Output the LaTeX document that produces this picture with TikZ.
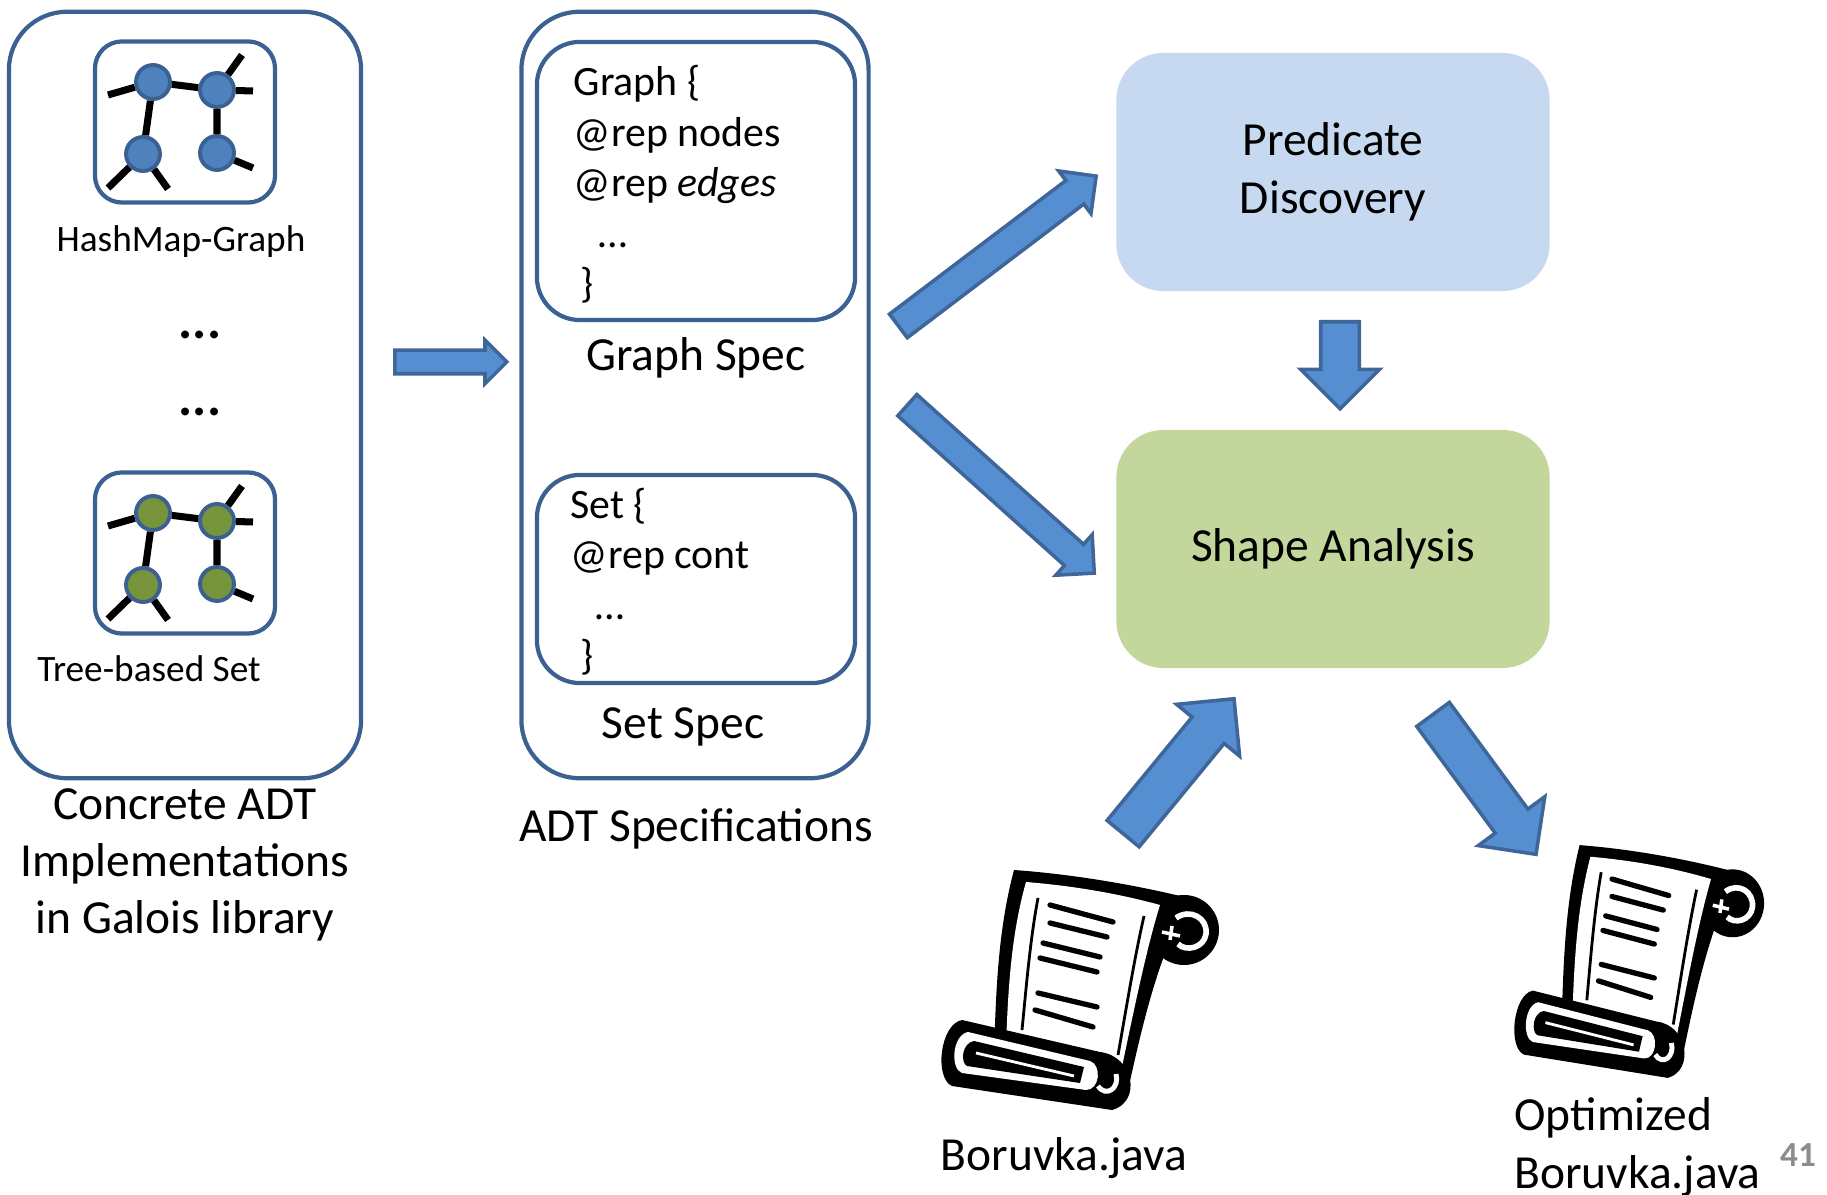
\documentclass[tikz,border=0pt]{standalone}
\usepackage{fontspec}
\setmainfont{Carlito}
\usetikzlibrary{shapes.arrows,calc}
\definecolor{adtblue}{RGB}{59, 96, 146}
\definecolor{nodeblue}{RGB}{79, 129, 189}
\definecolor{nodegreen}{RGB}{119, 147, 60}
\definecolor{predblue}{RGB}{198, 217, 241}
\definecolor{shapegreen}{RGB}{195, 214, 155}
\definecolor{arrowfill}{RGB}{86, 142, 210}
\definecolor{arrowline}{RGB}{62, 102, 152}
\definecolor{pagegray}{RGB}{140, 140, 140}

\tikzset{
  bigtext/.style={font=\fontsize{13.5}{16.3}\selectfont},
  smalltext/.style={font=\fontsize{10.6}{13}\selectfont},
  codetext/.style={font=\fontsize{11.9}{14.4}\selectfont, align=left, inner sep=0},
  outerbox/.style={draw=adtblue, line width=1.2pt, rounded corners=0.58cm, minimum height=7.66cm},
  codebox/.style={draw=adtblue, line width=1.2pt, rounded corners=0.43cm, minimum width=3.18cm},
  iconbox/.style={draw=adtblue, line width=1.2pt, rounded corners=0.27cm, minimum width=1.8cm, minimum height=1.61cm},
  stagebox/.style={rounded corners=0.47cm, minimum width=4.33cm, minimum height=2.38cm, align=center, bigtext},
  gnode/.style={circle, draw=adtblue, line width=1.1pt, minimum size=0.34cm, inner sep=0},
  gedge/.style={line width=2pt},
  fatarrow/.style={single arrow, draw=arrowline, fill=arrowfill, line width=1pt, inner xsep=0,
    single arrow tip angle=90, sloped, allow upside down, pos=0, anchor=tail},
  % small graph drawn inside an icon box
  pics/graphicon/.style={code={
    \node[gnode, fill=#1] (-a) at (-32,-40) {};
    \node[gnode, fill=#1] (-b) at (32,-32) {};
    \node[gnode, fill=#1] (-c) at (-42,32) {};
    \node[gnode, fill=#1] (-d) at (32,31) {};
    \draw[gedge] (-a) -- (-b) (-a) -- (-c) (-b) -- (-d);
    \draw[gedge] (-a) -- (-77,-27) (-b) -- (57,-67) (-b) -- (68,-31)
                 (-c) -- (-77,66) (-c) -- (-17,67) (-d) -- (68,46);
  }},
  % rolled sheet of source code
  pics/scroll/.style={code={
    % upper roll
    \fill (244,90) circle (35);
    % sheet
    \fill (74,30) .. controls (130,34) and (190,44) .. (240,56)
      -- (224,116) .. controls (208,160) and (198,205) .. (188,250)
      -- (54,214) .. controls (56,150) and (58,90) .. (74,30) -- cycle;
    \fill[white] (86,42) .. controls (135,46) and (180,54) .. (220,65)
      .. controls (206,110) and (194,170) .. (180,236)
      -- (66,206) .. controls (68,150) and (71,95) .. (86,42) -- cycle;
    \draw[line width=0.8pt] (98,58) .. controls (90,100) and (86,150) .. (82,190);
    \draw[line width=0.8pt] (204,76) .. controls (194,120) and (186,170) .. (178,215);
    % writing
    \draw[line width=1.5pt, line cap=round] (110,65) -- (173,82) (110,83) -- (167,97)
      (103,103) -- (160,117) (100,118) -- (157,132) (98,153) -- (157,167) (95,170) -- (153,187);
    % curl of the upper roll
    \draw[white, line width=1.6pt] (236,78) .. controls (250,68) and (268,78) .. (266,94)
      .. controls (264,108) and (246,112) .. (238,104);
    \draw[white, line width=1pt] (222,92) -- (240,96) (232,86) -- (230,100);
    % lower roll
    \fill (22,180) -- (160,212) .. controls (194,216) and (202,262) .. (172,270)
      -- (12,246) .. controls (-6,238) and (0,184) .. (22,180) -- cycle;
    \fill[white] (28,192) -- (150,221) .. controls (162,225) and (160,250) .. (146,250)
      -- (22,233) .. controls (10,229) and (12,195) .. (28,192) -- cycle;
    \fill (34,201) -- (144,227) -- (140,243) -- (27,226) .. controls (20,222) and (22,203) .. (34,201) -- cycle;
    \draw[white, line width=0.8pt] (36,213) -- (134,236);
    \draw[white, line width=1.4pt] (176,234) .. controls (180,248) and (166,258) .. (158,246);
  }}
}

\begin{document}
\begin{tikzpicture}[x=0.01cm, y=-0.01cm]
\useasboundingbox (0,0) rectangle (1827,1195);

% concrete implementations
\node[outerbox, minimum width=3.52cm] (impl) at (185,395) {};
\node[iconbox] (hashicon) at (185,122) {};
\pic (hm) at (hashicon) {graphicon=nodeblue};
\node[smalltext] (hmlabel) at (181,242) {HashMap-Graph};
\node[font=\fontsize{15}{18}\selectfont\bfseries, inner sep=0, anchor=base] (dotsa) at (200,339) {...};
\node[font=\fontsize{15}{18}\selectfont\bfseries, inner sep=0, anchor=base] (dotsb) at (200,416) {...};
\node[iconbox] (treeicon) at (185,553) {};
\pic (ts) at (treeicon) {graphicon=nodegreen};
\node[smalltext] (tslabel) at (149,669) {Tree-based Set};
\node[bigtext, align=center] (impllabel) at (185,865) {Concrete ADT\\Implementations\\in Galois library};

% specifications
\node[outerbox, minimum width=3.47cm] (spec) at (695,395) {};
\node[codebox, minimum height=2.78cm] (graphspec) at (696,181) {};
\node[codetext, anchor=base west] (graphcode) at (573,298)
  {Graph \{\\@rep nodes\\@rep \textit{edges}\\\hspace{0.25cm}…\\\hspace{0.07cm}\}};
\node[bigtext] (graphlabel) at (696,358) {Graph Spec};
\node[codebox, minimum height=2.08cm] (setspec) at (696,579) {};
\node[codetext, anchor=base west] (setcode) at (570,670)
  {Set \{\\@rep cont\\\hspace{0.25cm}…\\\hspace{0.1cm}\}};
\node[bigtext] (setlabel) at (683,727) {Set Spec};
\node[bigtext] (speclabel) at (696,829) {ADT Specifications};

% analysis stages
\node[stagebox, fill=predblue] (pred) at (1333,172) {Predicate\\Discovery};
\node[stagebox, fill=shapegreen] (shape) at (1333,549) {Shape Analysis};

% programs
\pic at (940,840) {scroll};
\node[bigtext] (src) at (1064,1158) {Boruvka.java};
\pic[xscale=0.9, yscale=0.97] at (1513,816) {scroll};
\node[bigtext, align=left, anchor=west] (opt) at (1502,1147) {Optimized\\Boruvka.java};
\node[font=\fontsize{10}{12}\selectfont\bfseries, text=pagegray] (pagenum) at (1798,1155) {41};

% block arrows
\coordinate (implout) at (393,362);
\coordinate (specin) at (505,362);
\coordinate (specup) at (897,327);
\coordinate (predin) at (1095,177);
\coordinate (specdown) at (906,404);
\coordinate (shapein) at (1093,572);
\coordinate (predout) at (1340,320);
\coordinate (shapetop) at (1340,407);
\coordinate (srcout) at (1122,835);
\coordinate (shapeleft) at (1233,700);
\coordinate (shaperight) at (1432,713);
\coordinate (optin) at (1535,853);
\foreach \a/\b/\s/\e in {implout/specin/0.10cm/0.10cm, specup/predin/0.13cm/0.12cm,
    specdown/shapein/0.125cm/0.13cm, predout/shapetop/0.175cm/0.20cm,
    srcout/shapeleft/0.19cm/0.20cm, shaperight/optin/0.185cm/0.21cm}
  \path let \p1=($(\b)-(\a)$), \n1={veclen(\x1,\y1)} in
    (\a) -- (\b) node[fatarrow, minimum height=\n1, inner ysep=\s,
      single arrow head extend=\e] (\a-arrow) {};
\end{tikzpicture}
\end{document}
